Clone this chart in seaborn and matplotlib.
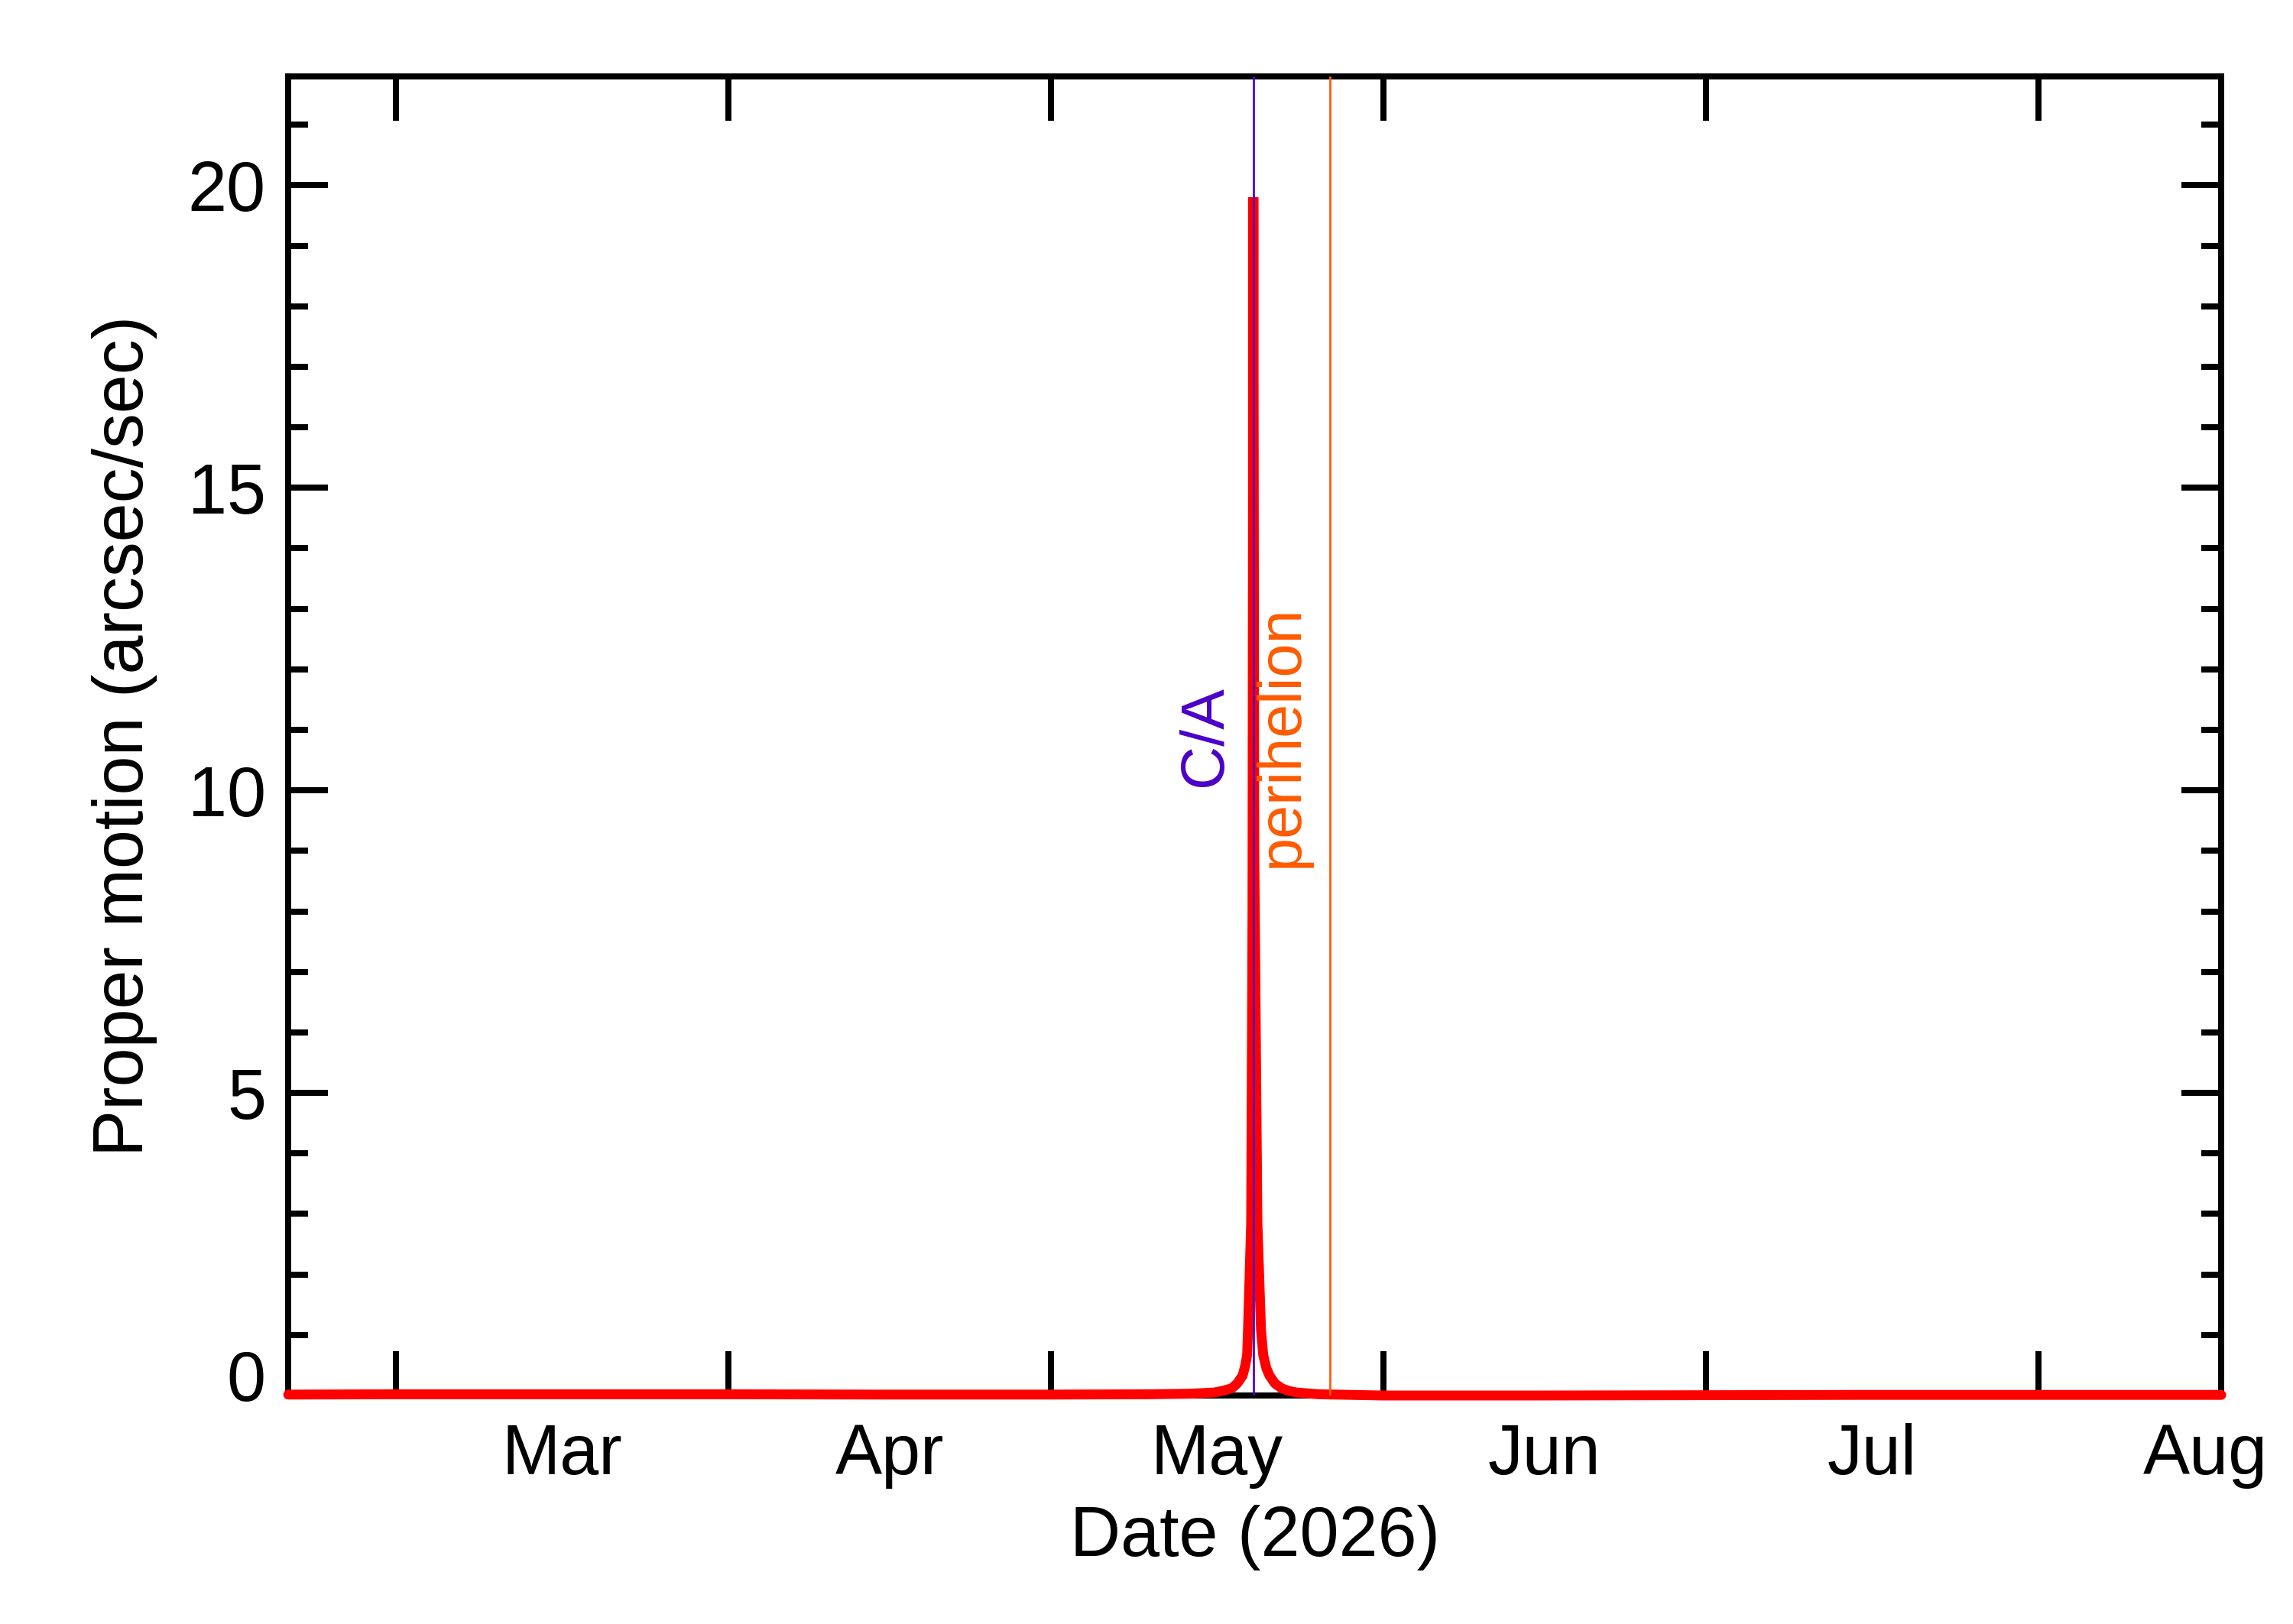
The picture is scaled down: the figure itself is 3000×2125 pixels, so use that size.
import pandas as pd
import matplotlib
matplotlib.use("Agg")
import matplotlib.pyplot as plt
import matplotlib.dates as mdates
from matplotlib.ticker import MultipleLocator, FixedLocator, NullFormatter
from matplotlib.transforms import ScaledTranslation
import seaborn as sns

# proper motion (arcsec/sec)
dates = [
    "2026-02-19 00:00", "2026-03-01 00:00", "2026-03-15 00:00", "2026-04-01 00:00",
    "2026-04-15 00:00", "2026-05-01 00:00", "2026-05-10 00:00", "2026-05-14 00:00",
    "2026-05-16 06:00", "2026-05-17 02:00", "2026-05-17 21:00", "2026-05-18 09:00",
    "2026-05-18 21:00", "2026-05-19 03:00", "2026-05-19 07:00", "2026-05-19 09:00",
    "2026-05-19 16:00", "2026-05-19 19:00", "2026-05-19 21:00", "2026-05-19 23:00",
    "2026-05-20 06:00", "2026-05-20 14:00", "2026-05-20 19:00", "2026-05-21 02:00",
    "2026-05-21 09:00", "2026-05-21 21:00", "2026-05-22 12:00", "2026-05-23 02:00",
    "2026-05-23 21:00", "2026-05-26 00:00", "2026-06-01 00:00", "2026-06-15 00:00",
    "2026-07-01 00:00", "2026-07-15 00:00", "2026-08-01 00:00", "2026-08-18 00:00",
]
motion = [
    0.015, 0.02, 0.02, 0.02,
    0.015, 0.015, 0.02, 0.03,
    0.05, 0.08, 0.12, 0.2,
    0.33, 0.5, 0.67, 1.09,
    2.85, 8.0, 19.8, 9.0,
    2.85, 1.09, 0.67, 0.45,
    0.33, 0.2, 0.12, 0.08,
    0.05, 0.02, 0.0, 0.0,
    0.005, 0.01, 0.01, 0.01,
]

ca_date = "2026-05-19 21:00"
perihelion_date = "2026-05-27 00:00"
x_start, x_end = "2026-02-19", "2026-08-18"
y_max = 21.8
month_starts = ["2026-02-01", "2026-03-01", "2026-04-01", "2026-05-01", "2026-06-01",
                "2026-07-01", "2026-08-01", "2026-09-01"]

ca_color = "#4b00c8"
peri_color = "#ff5a00"

sns.set_theme(style="white")
plt.rcParams["font.family"] = ["Liberation Sans", "DejaVu Sans"]

df = pd.DataFrame({"date": pd.to_datetime(dates), "motion": motion})

fig, ax = plt.subplots(figsize=(10, 2125 / 300))
fig.subplots_adjust(left=0.1257, right=0.9687, top=0.953, bottom=0.1407)

sns.lineplot(data=df, x="date", y="motion", color="#ff0000", lw=3.1, ax=ax,
             clip_on=False, zorder=2.6, solid_joinstyle="bevel")

ax.axvline(pd.Timestamp(ca_date), color=ca_color, lw=0.65, zorder=3)
ax.axvline(pd.Timestamp(perihelion_date), color=peri_color, lw=0.65, zorder=3)

for label, d, c in [("C/A", ca_date, ca_color), ("perihelion", perihelion_date, peri_color)]:
    ax.annotate(label, xy=(mdates.date2num(pd.Timestamp(d)), 0.5),
                xycoords=("data", "axes fraction"), xytext=(-6, 0),
                textcoords="offset points", rotation=90, ha="right", va="center",
                color=c, fontsize=19, zorder=4)

ax.set_xlim(pd.Timestamp(x_start), pd.Timestamp(x_end))
ax.set_ylim(0, y_max)

# month ticks at boundaries, names centred in each month
starts = pd.to_datetime(month_starts)
mids = starts[:-1] + (starts[1:] - starts[:-1]) / 2
ax.xaxis.set_major_locator(FixedLocator(mdates.date2num(starts)))
ax.xaxis.set_major_formatter(NullFormatter())
ax.xaxis.set_minor_locator(FixedLocator(mdates.date2num(mids)))
ax.xaxis.set_minor_formatter(mdates.DateFormatter("%b"))

ax.yaxis.set_major_locator(MultipleLocator(5))
ax.yaxis.set_minor_locator(MultipleLocator(1))

ax.tick_params(axis="x", which="major", direction="in", length=14, width=1.9,
               top=True, bottom=True, color="black")
ax.tick_params(axis="x", which="minor", length=0, labelsize=22, pad=8.7,
               labelbottom=True, colors="black")
ax.tick_params(axis="y", which="major", direction="in", length=12.5, width=1.9,
               left=True, right=True, labelsize=22, pad=7, colors="black")
ax.tick_params(axis="y", which="minor", direction="in", length=6.2, width=1.9,
               left=True, right=True, color="black")

for s in ax.spines.values():
    s.set_linewidth(1.9)
    s.set_color("black")

ax.set_xlabel("Date (2026)", fontsize=22, labelpad=5, color="black")
ax.set_ylabel("Proper motion (arcsec/sec)", fontsize=22, labelpad=9.5, color="black")

# the zero label sits a little above its tick, as in the reference
fig.canvas.draw()
for t in ax.yaxis.get_major_ticks():
    if t.label1.get_text() == "0":
        t.label1.set_transform(t.label1.get_transform()
                               + ScaledTranslation(0, 27 / 300, fig.dpi_scale_trans))

fig.savefig("out.png", dpi=300)
